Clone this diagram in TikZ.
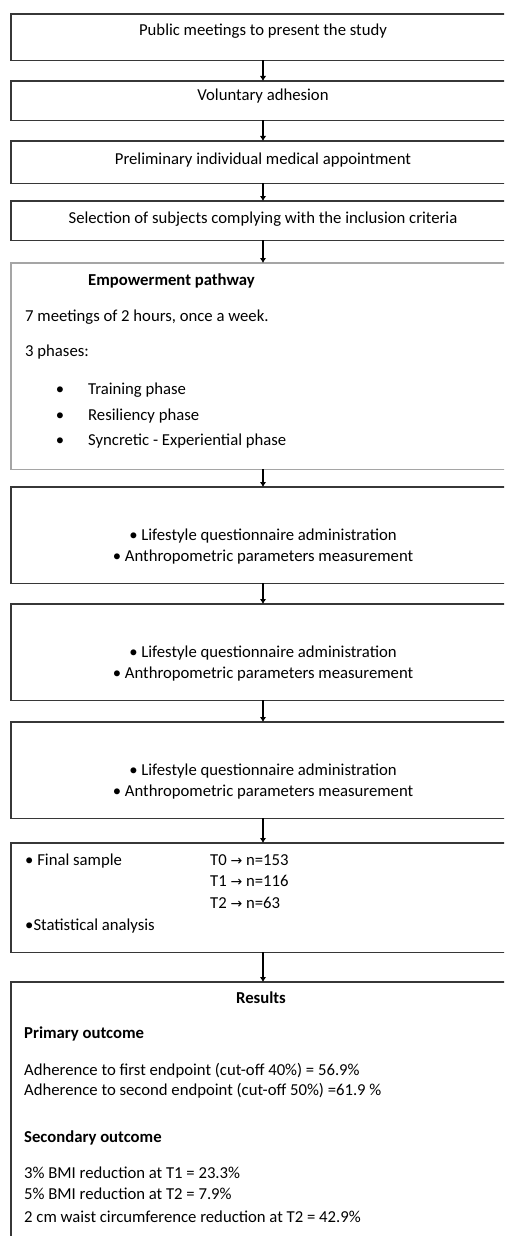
\documentclass[tikz,border=0pt]{standalone}
\usepackage{fontspec}
\setmainfont{Carlito}
\newfontfamily\arrowfont{DejaVu Sans}
\usetikzlibrary{arrows.meta,positioning}

\definecolor{framegray}{RGB}{55,55,55}
\definecolor{lightframe}{RGB}{165,165,165}

\begin{document}
\begin{tikzpicture}[x=1pt, y=-1pt,
  box/.style={minimum width=540pt, inner sep=0pt, anchor=north west},
  frame/.style={draw=framegray, line width=1.3pt},
  softframe/.style={frame, draw=lightframe},
  txt/.style={font=\fontsize{16.7}{21}\selectfont, inner sep=0pt, text height=11pt, text depth=3pt},
  ltxt/.style={txt, anchor=west},
  bold/.style={font=\fontsize{16.7}{21}\selectfont\bfseries},
  flow/.style={-{Latex[length=5pt,width=6.5pt]}, line width=1.7pt}]
  \useasboundingbox (0,0) rectangle (504,1236);
  \clip (0,0) rectangle (504,1236);

  % recruitment
  \node[box, minimum height=46pt] (meet) at (11,14) {};
  \node[txt] (meet-t) at (263,32) {Public meetings to present the study};
  \node[box, minimum height=39pt] (adh) at (11,81) {};
  \node[txt] (adh-t) at (263,97) {Voluntary adhesion};
  \node[box, minimum height=42pt] (appt) at (11,141) {};
  \node[txt] (appt-t) at (263,160) {Preliminary individual medical appointment};
  \node[box, minimum height=39pt] (sel) at (11,201) {};
  \node[txt] (sel-t) at (263,219) {Selection of subjects complying with the inclusion criteria};

  % empowerment pathway
  \node[box, minimum height=206pt] (path) at (11,263) {};
  \node[ltxt, bold] (path-t) at (88,281) {Empowerment pathway};
  \node[ltxt] (path-a) at (25,317) {7 meetings of 2 hours, once a week.};
  \node[ltxt] (path-b) at (25,352) {3 phases:};
  \foreach \y/\ph [count=\i] in {390/Training phase, 416/Resiliency phase, 441/Syncretic - Experiential phase} {
    \node[txt] (dot\i) at (60,\y) {•};
    \node[ltxt] (phase\i) at (88,\y) {\ph};
  }

  % measurements
  \foreach \top [count=\i] in {487,604,722} {
    \node[box, minimum height=96pt] (meas\i) at (11,\top) {};
    \node[txt] (meas\i-a) at (263,\top+49) {• Lifestyle questionnaire administration};
    \node[txt] (meas\i-b) at (263,\top+70) {• Anthropometric parameters measurement};
  }

  % sample
  \node[box, minimum height=109pt] (samp) at (11,843) {};
  \node[ltxt] (samp-a) at (25,861) {• Final sample};
  \node[ltxt] (t0) at (210,861) {T0 {\arrowfont\fontsize{14}{21}\selectfont →} n=153};
  \node[ltxt] (t1) at (210,882) {T1 {\arrowfont\fontsize{14}{21}\selectfont →} n=116};
  \node[ltxt] (t2) at (210,904) {T2 {\arrowfont\fontsize{14}{21}\selectfont →} n=63};
  \node[ltxt] (samp-b) at (25,926) {•Statistical analysis};

  % results
  \node[box, minimum height=290pt] (res) at (11,982) {};
  \node[txt, bold] (res-t) at (261,999) {Results};
  \node[ltxt, bold] (prim) at (24,1034) {Primary outcome};
  \node[ltxt] (prim-a) at (24,1071) {Adherence to first endpoint (cut-off 40\%) = 56.9\%};
  \node[ltxt] (prim-b) at (24,1091) {Adherence to second endpoint (cut-off 50\%) =61.9 \%};
  \node[ltxt, bold] (sec) at (24,1138) {Secondary outcome};
  \node[ltxt] (sec-a) at (24,1174) {3\% BMI reduction at T1 = 23.3\%};
  \node[ltxt] (sec-b) at (24,1195) {5\% BMI reduction at T2 = 7.9\%};
  \node[ltxt] (sec-c) at (24,1218) {2 cm waist circumference reduction at T2 = 42.9\%};

  % frames, open on the right (cut by the page)
  \foreach \b in {meet,adh,appt,sel,meas1,meas2,meas3,samp,res}
    \draw[frame] (\b.north east) -- (\b.north west) -- (\b.south west) -- (\b.south east);
  \draw[softframe] (path.north east) -- (path.north west) -- (path.south west) -- (path.south east);

  \draw[flow] (meet-t |- meet.south) -- (meet-t |- adh.north);
  \draw[flow] (meet-t |- adh.south) -- (meet-t |- appt.north);
  \draw[flow] (meet-t |- appt.south) -- (meet-t |- sel.north);
  \draw[flow] (meet-t |- sel.south) -- (meet-t |- path.north);
  \draw[flow] (meet-t |- path.south) -- (meet-t |- meas1.north);
  \draw[flow] (meet-t |- meas1.south) -- (meet-t |- meas2.north);
  \draw[flow] (meet-t |- meas2.south) -- (meet-t |- meas3.north);
  \draw[flow] (meet-t |- meas3.south) -- (meet-t |- samp.north);
  \draw[flow] (meet-t |- samp.south) -- (meet-t |- res.north);
\end{tikzpicture}
\end{document}
